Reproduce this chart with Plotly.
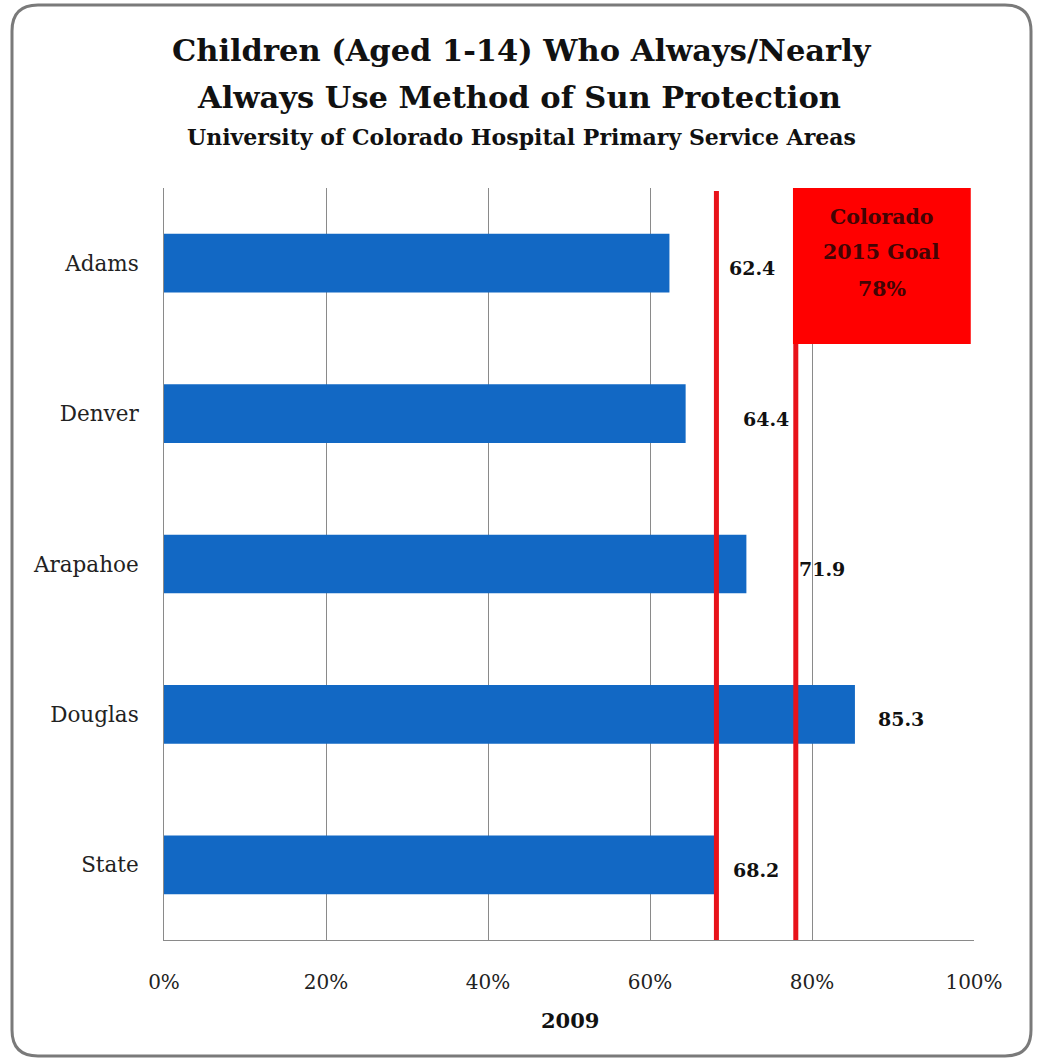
import plotly.graph_objects as go

# Share of children (aged 1-14) who always/nearly always use sun protection, 2009
areas = ["Adams", "Denver", "Arapahoe", "Douglas", "State"]
pct_2009 = [62.4, 64.4, 71.9, 85.3, 68.2]
state_value = 68.2
goal_2015 = 78
goal_lines = ["Colorado", "2015 Goal", f"{goal_2015}%"]
x_ticks = [0, 20, 40, 60, 80, 100]
x_tick_text = ["0%", "20%", "40%", "60%", "80%", "100%"]

# horizontal nudge of each value label past its bar end (in axis %)
label_nudge = [7.1, 6.8, 6.2, 2.6, 1.8]

W, H = 1039, 1059
ML, MR, MT, MB = 164, 65, 188, 119
PW, PH = W - ML - MR, H - MT - MB

FONT = "DejaVu Serif"
BAR = "#1268C4"
RED = "#E8121A"


def px(xp):
    return (xp - ML) / PW


def py(yp):
    return 1 - (yp - MT) / PH


fig = go.Figure()
fig.add_trace(go.Bar(
    y=areas, x=pct_2009, orientation="h", width=0.39,
    marker=dict(color=BAR, line=dict(width=0)),
    hoverinfo="skip",
))

# value labels beside the bars
for a, v, n in zip(areas, pct_2009, label_nudge):
    fig.add_annotation(
        x=v + n, y=a, xref="x", yref="y", text=f"<b>{v}</b>",
        showarrow=False, xanchor="left", yanchor="middle", yshift=-5,
        font=dict(family=FONT, size=19, color="#111"),
    )

# state reference line and 2015 goal line
fig.add_shape(type="line", xref="x", yref="paper", x0=state_value, x1=state_value,
              y0=0, y1=py(191), line=dict(color=RED, width=5))
fig.add_shape(type="line", xref="x", yref="paper", x0=goal_2015, x1=goal_2015,
              y0=0, y1=py(344), line=dict(color=RED, width=5))

# goal callout box
box_x0, box_x1 = goal_2015 - 0.35, 99.6
fig.add_shape(type="rect", xref="x", yref="paper", x0=box_x0, x1=box_x1,
              y0=py(344), y1=1, fillcolor="#FF0000", line=dict(width=0), layer="above")
for line_text, ypix in zip(goal_lines, [217, 252, 289]):
    fig.add_annotation(
        x=(box_x0 + box_x1) / 2, y=py(ypix), xref="x", yref="paper",
        text=f"<b>{line_text}</b>", showarrow=False,
        xanchor="center", yanchor="middle",
        font=dict(family=FONT, size=20.5, color="#420404"),
    )

# titles
fig.add_annotation(x=px(522), y=py(50), xref="paper", yref="paper",
                   text="<b>Children (Aged 1-14) Who Always/Nearly</b>", showarrow=False,
                   xanchor="center", yanchor="middle",
                   font=dict(family=FONT, size=30.5, color="#111"))
fig.add_annotation(x=px(519), y=py(97), xref="paper", yref="paper",
                   text="<b>Always Use Method of Sun Protection</b>", showarrow=False,
                   xanchor="center", yanchor="middle",
                   font=dict(family=FONT, size=30.5, color="#111"))
fig.add_annotation(x=px(521), y=py(137), xref="paper", yref="paper",
                   text="<b>University of Colorado Hospital Primary Service Areas</b>",
                   showarrow=False, xanchor="center", yanchor="middle",
                   font=dict(family=FONT, size=22, color="#111"))
fig.add_annotation(x=px(570), y=py(1020), xref="paper", yref="paper",
                   text="<b>2009</b>", showarrow=False, xanchor="center", yanchor="middle",
                   font=dict(family=FONT, size=21, color="#111"))

# rounded outer frame
x0, x1, y0, y1, r = 12, 1031, 5, 1056, 26
path = (f"M {px(x0 + r)},{py(y0)} L {px(x1 - r)},{py(y0)} "
        f"Q {px(x1)},{py(y0)} {px(x1)},{py(y0 + r)} L {px(x1)},{py(y1 - r)} "
        f"Q {px(x1)},{py(y1)} {px(x1 - r)},{py(y1)} L {px(x0 + r)},{py(y1)} "
        f"Q {px(x0)},{py(y1)} {px(x0)},{py(y1 - r)} L {px(x0)},{py(y0 + r)} "
        f"Q {px(x0)},{py(y0)} {px(x0 + r)},{py(y0)} Z")
fig.add_shape(type="path", xref="paper", yref="paper", path=path,
              line=dict(color="#7A7A7A", width=3), layer="above")

fig.update_layout(
    width=W, height=H, margin=dict(l=ML, r=MR, t=MT, b=MB, autoexpand=False),
    paper_bgcolor="white", plot_bgcolor="white", showlegend=False,
    font=dict(family=FONT, color="#111"),
    xaxis=dict(
        range=[0, 100], tickvals=x_ticks, ticktext=x_tick_text,
        showgrid=True, gridcolor="#8A8A8A", gridwidth=1,
        zeroline=False, showline=True, linecolor="#8A8A8A", linewidth=1,
        ticks="", ticklabelstandoff=24, tickfont=dict(family=FONT, size=20, color="#222"),
        fixedrange=True,
    ),
    yaxis=dict(
        categoryorder="array", categoryarray=areas, autorange="reversed",
        showgrid=False, zeroline=False, showline=True, linecolor="#8A8A8A", linewidth=1,
        ticks="", ticklabelstandoff=20, tickfont=dict(family=FONT, size=21.5, color="#222"),
        fixedrange=True,
    ),
)

fig.write_html("out.html")
